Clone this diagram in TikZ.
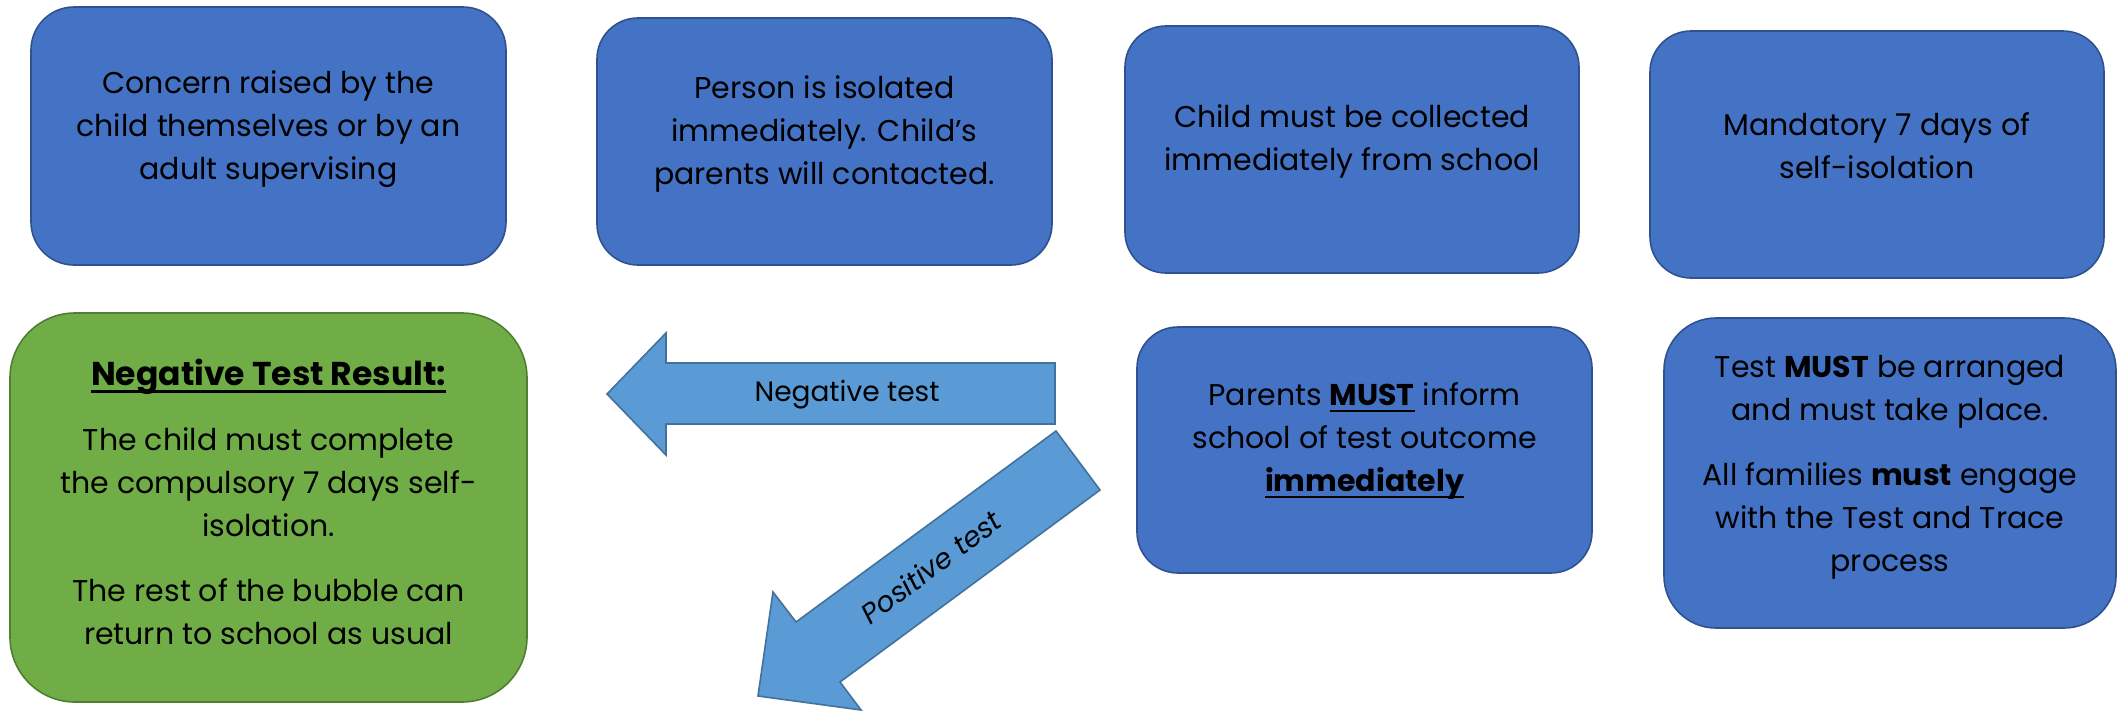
\documentclass[tikz,border=0pt]{standalone}
\usepackage{fontspec}
\setmainfont{Poppins}
\definecolor{boxblue}{HTML}{4472C4}
\definecolor{boxblueline}{HTML}{2F528F}
\definecolor{boxgreen}{HTML}{70AD47}
\definecolor{boxgreenline}{HTML}{507E32}
\definecolor{arrowblue}{HTML}{5B9BD5}
\definecolor{arrowline}{HTML}{41719C}
\newcommand\myul[1]{\setbox0\hbox{#1}\rlap{\rule[-7pt]{\wd0}{2.6pt}}\box0}
\begin{document}
\begin{tikzpicture}[x=1pt,y=-1pt,
  bluebox/.style={draw=boxblueline, fill=boxblue, line width=1.6pt, inner sep=0pt, outer sep=0pt},
  greenbox/.style={draw=boxgreenline, fill=boxgreen, line width=1.6pt, inner sep=0pt, outer sep=0pt},
  blockarrow/.style={draw=arrowline, fill=arrowblue, line width=1.6pt, line join=miter},
  txt/.style={align=center, inner sep=0pt, font=\fontsize{30}{43}\selectfont, text=black},
  arrowtxt/.style={inner sep=0pt, font=\fontsize{28}{34}\selectfont, text=black}]
\useasboundingbox (0,0) rectangle (2121,710);
\fill[white] (0,0) rectangle (2121,710);

% top row boxes
\node[bluebox, minimum width=475, minimum height=258, rounded corners=43] (b1) at (268.5,136) {};
\node[txt] (t1) at (268.5,129) {Concern raised by the\\child themselves or by an\\adult supervising};

\node[bluebox, minimum width=455, minimum height=247, rounded corners=41] (b2) at (824.5,141.5) {};
\node[txt] (t2) at (824.5,134) {Person is isolated\\immediately. Child’s\\parents will contacted.};

\node[bluebox, minimum width=454, minimum height=247, rounded corners=41] (b3) at (1352,149.5) {};
\node[txt] (t3) at (1352,141) {Child must be collected\\immediately from school};

\node[bluebox, minimum width=454, minimum height=247, rounded corners=41] (b4) at (1877,154.5) {};
\node[txt] (t4) at (1877,146) {Mandatory 7 days of\\self-isolation};

% bottom row
\node[greenbox, minimum width=517, minimum height=389, rounded corners=65] (g) at (268.5,507.5) {};
\node[txt] (tg) at (268.5,502) {{\fontsize{33}{43}\selectfont\bfseries\myul{Negative Test Result:}}\\[22pt]
The child must complete\\the compulsory 7 days self-\\isolation.\\[22pt]
The rest of the bubble can\\return to school as usual};

\node[bluebox, minimum width=455, minimum height=246, rounded corners=41] (b5) at (1364.5,450) {};
\node[txt] (t5) at (1364.5,441) {Parents \textbf{\myul{MUST}} inform\\school of test outcome\\\textbf{\myul{immediately}}};

\node[bluebox, minimum width=452, minimum height=310, rounded corners=52] (b6) at (1890,473) {};
\node[txt] (t6) at (1890,467) {Test \textbf{MUST} be arranged\\and must take place.\\[22pt]
All families \textbf{must} engage\\with the Test and Trace\\process};

% block arrows
\draw[blockarrow] (607,394) -- (666,333) -- (666,363) -- (1055,363) -- (1055,424)
  -- (666,424) -- (666,455) -- cycle;
\node[arrowtxt] (neg) at (847,395) {Negative test};

\draw[blockarrow] (1056,431) -- (1100,490) -- (840,682) -- (861,710) -- (758,696)
  -- (773,592) -- (796,622) -- cycle;
\node[arrowtxt, rotate=37] (pos) at (931,567) {\itshape Positive test};
\end{tikzpicture}
\end{document}
